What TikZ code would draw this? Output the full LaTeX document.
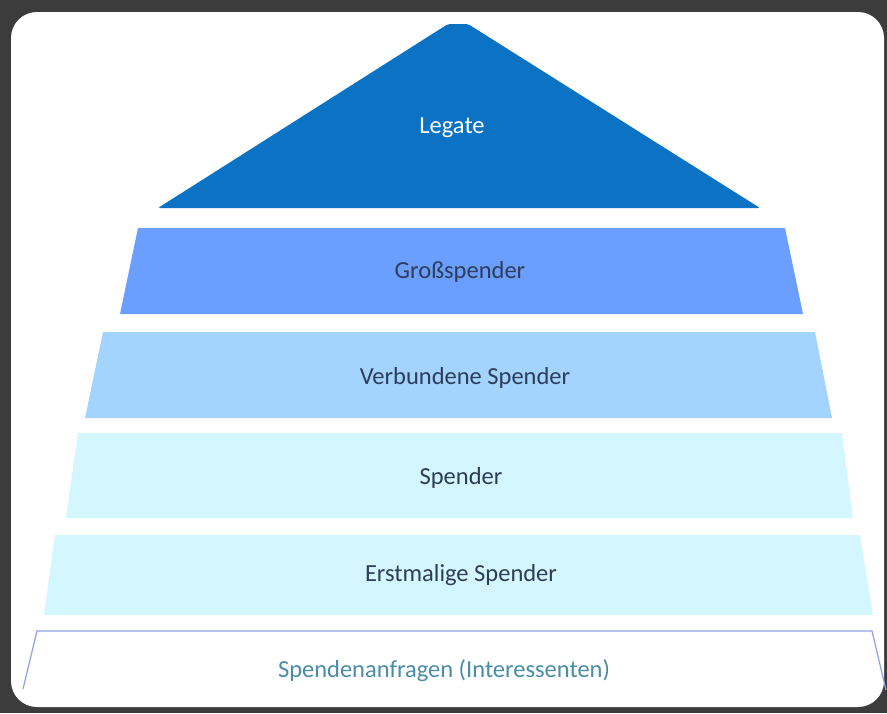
\documentclass[tikz,border=0pt]{standalone}
\usepackage{fontspec}
\setmainfont{Carlito}
\definecolor{legateblue}{HTML}{0B72C4}
\definecolor{grossblue}{HTML}{6A9FFF}
\definecolor{verbblue}{HTML}{A3D4FF}
\definecolor{paleblue}{HTML}{D4F6FE}
\definecolor{edgeblue}{HTML}{8EA2E2}
\definecolor{labelteal}{HTML}{4A8DA6}
\definecolor{labeldark}{HTML}{2E3D58}
\definecolor{darkbg}{HTML}{3C3C3C}
\begin{document}
\begin{tikzpicture}[
      x=1pt, y=-1pt,
      lbl/.style={font=\fontsize{24.5}{28}\selectfont, text=labeldark}
    ]
      \fill[darkbg] (0,0) rectangle (887,713);
      \useasboundingbox (0,0) rectangle (887,713);
      \fill[white, rounded corners=26pt] (11,12) rectangle (884,707);
      \fill[legateblue, rounded corners=2pt] (158,208) -- (448,24) -- (468,24) -- (760,208) -- cycle;
      \fill[grossblue] (120,314) -- (138,228) -- (785,228) -- (803,314) -- cycle;
      \fill[verbblue] (85,418) -- (103,332) -- (815,332) -- (832,418) -- cycle;
      \fill[paleblue] (66,518) -- (78,433) -- (842,433) -- (853,518) -- cycle;
      \fill[paleblue] (44,615) -- (55,535) -- (860,535) -- (873,615) -- cycle;
      \draw[edgeblue, line width=1.2pt] (23,689) -- (37,631) -- (872,631) -- (886,690);
      \node[lbl, text=white] (legate) at (452,128) {Legate};
      \node[lbl] (gross) at (460,272) {Großspender};
      \node[lbl] (verbunden) at (465,378) {Verbundene Spender};
      \node[lbl] (spender) at (461,478) {Spender};
      \node[lbl] (erstmalig) at (461,575) {Erstmalige Spender};
      \node[lbl, text=labelteal] (anfragen) at (444,671) {Spendenanfragen (Interessenten)};
    \end{tikzpicture}
\end{document}
